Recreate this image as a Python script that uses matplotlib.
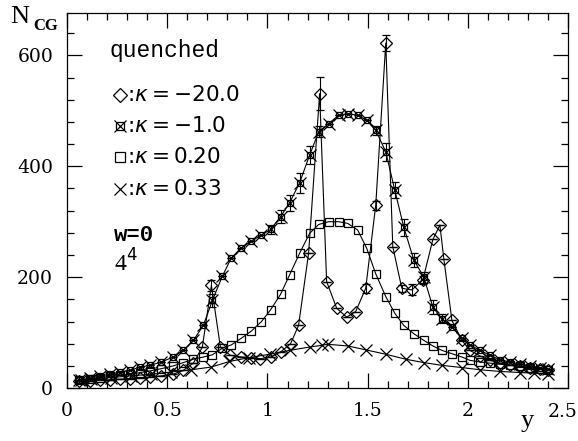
import matplotlib
matplotlib.use("Agg")
import matplotlib.pyplot as plt
from matplotlib.ticker import MultipleLocator

# kappa = -20.0 (diamonds)
x_m20 = [0.06, 0.115, 0.165, 0.215, 0.265, 0.315, 0.365, 0.415, 0.47, 0.53,
         0.58, 0.63, 0.675, 0.72, 0.765, 0.815, 0.87, 0.92, 0.965, 1.015,
         1.065, 1.115, 1.155, 1.205, 1.26, 1.295, 1.345, 1.395, 1.44, 1.49,
         1.54, 1.59, 1.625, 1.67, 1.72, 1.775, 1.825, 1.86, 1.88, 1.92,
         1.97, 2.01, 2.06, 2.11, 2.16, 2.21, 2.26, 2.31, 2.36, 2.40]
n_m20 = [12, 13, 14, 15, 16, 17, 18, 20, 22, 25,
         32, 45, 74, 185, 74, 59, 56, 55, 53, 56,
         65, 80, 113, 243, 531, 192, 144, 128, 138, 180,
         330, 622, 255, 180, 177, 195, 268, 294, 232, 122,
         86, 68, 58, 50, 45, 42, 39, 36, 34, 32]
e_m20 = [0, 0, 0, 0, 0, 0, 0, 0, 0, 0,
         0, 0, 0, 10, 0, 0, 0, 0, 0, 0,
         0, 0, 0, 0, 30, 0, 0, 0, 0, 8,
         8, 14, 0, 6, 10, 8, 0, 0, 0, 0,
         0, 0, 0, 0, 0, 0, 0, 0, 0, 0]

# kappa = -1.0 and kappa = 0.20 share the same y values
x_grid = [0.06, 0.115, 0.165, 0.215, 0.265, 0.315, 0.365, 0.415, 0.47, 0.53,
          0.58, 0.63, 0.68, 0.725, 0.775, 0.82, 0.87, 0.92, 0.97, 1.015,
          1.065, 1.11, 1.16, 1.21, 1.255, 1.305, 1.355, 1.40, 1.45, 1.495,
          1.54, 1.59, 1.635, 1.68, 1.73, 1.78, 1.825, 1.87, 1.92, 1.97,
          2.01, 2.06, 2.11, 2.16, 2.21, 2.26, 2.31, 2.36, 2.40]
n_m1 = [14, 18, 22, 25, 29, 32, 38, 41, 47, 56,
        68, 86, 113, 158, 202, 235, 253, 265, 276, 286,
        309, 334, 370, 420, 462, 477, 492, 495, 492, 483,
        465, 426, 357, 290, 231, 200, 146, 125, 110, 90,
        78, 68, 59, 51, 47, 43, 40, 37, 35]
e_m1 = [0, 0, 0, 0, 0, 0, 0, 0, 0, 0,
        0, 0, 0, 12, 0, 0, 0, 0, 0, 8,
        12, 15, 18, 16, 10, 0, 0, 0, 0, 0,
        8, 16, 15, 15, 12, 10, 12, 8, 0, 0,
        0, 0, 0, 0, 0, 0, 0, 0, 0]
n_p20 = [15, 17, 19, 21, 23, 25, 28, 31, 35, 40,
         46, 52, 56, 60, 72, 78, 90, 103, 120, 141,
         169, 204, 243, 279, 295, 300, 300, 297, 285, 252,
         206, 165, 135, 113, 98, 86, 76, 68, 62, 56,
         50, 47, 45, 43, 41, 39, 37, 35, 33]

# kappa = 0.33 (crosses)
x_p33 = [0.07, 0.12, 0.22, 0.32, 0.42, 0.52, 0.62, 0.72, 0.81, 0.91,
         1.01, 1.11, 1.21, 1.27, 1.30, 1.40, 1.49, 1.59, 1.69, 1.78,
         1.87, 1.97, 2.06, 2.16, 2.26, 2.33, 2.40]
n_p33 = [14, 16, 19, 22, 25, 29, 33, 38, 48, 55,
         61, 68, 74, 77, 79, 76, 69, 61, 52, 46,
         41, 37, 33, 30, 28, 27, 26]

xtick_vals = [0, 0.5, 1, 1.5, 2, 2.5]
xtick_labels = ["0", "0.5", "1", "1.5", "2", ""]
ytick_vals = [0, 200, 400, 600]
ytick_labels = ["0", "200", "400", "600"]
legend_lines = [r":$\kappa=-$20.0", r":$\kappa=-$1.0", r":$\kappa=$0.20", r":$\kappa=$0.33"]

plt.rcParams["mathtext.fontset"] = "dejavusans"
fig = plt.figure(figsize=(5.78, 4.41), dpi=100)
ax = fig.add_axes([0.116, 0.120, 0.867, 0.850])

lw = 0.8
ax.errorbar(x_m20, n_m20, yerr=e_m20, color="k", lw=lw, marker="D", ms=5.8,
            mfc="none", mew=0.9, capsize=3, elinewidth=lw)
ax.errorbar(x_grid, n_m1, yerr=e_m1, color="k", lw=lw, marker="s", ms=5,
            mfc="none", mew=0.9, capsize=3, elinewidth=lw)
ax.plot(x_grid, n_m1, ls="none", marker="x", ms=8.5, color="k", mew=0.9)
ax.plot(x_grid, n_p20, color="k", lw=lw, marker="s", ms=5.5, mfc="none", mew=0.9)
ax.plot(x_p33, n_p33, color="k", lw=lw, marker="x", ms=8.5, mew=0.9)

ax.set_xlim(0, 2.5)
ax.set_ylim(0, 676)
ax.xaxis.set_minor_locator(MultipleLocator(0.1))
ax.yaxis.set_minor_locator(MultipleLocator(40))
ax.tick_params(which="both", direction="in", top=True, right=True, width=0.9)
ax.tick_params(which="major", length=11, labelsize=13.5)
ax.tick_params(axis="x", which="major", pad=10)
ax.tick_params(axis="y", which="major", pad=10)
ax.tick_params(which="minor", length=5)
ax.set_xticks(xtick_vals)
ax.set_xticklabels(xtick_labels, family="DejaVu Serif")
ax.set_yticks(ytick_vals)
ax.set_yticklabels(ytick_labels, family="DejaVu Serif")
for s in ax.spines.values():
    s.set_linewidth(0.9)
# last x tick label sits at the figure edge; keep it inside
fig.text(0.9995, 0.066, "2.5", fontsize=13.5, family="DejaVu Serif",
         ha="right", va="center")

# axis titles
fig.text(0.017, 0.962, "N", fontsize=19, family="Liberation Serif",
         va="center", ha="left")
fig.text(0.058, 0.940, "CG", fontsize=12, family="Liberation Serif", weight="bold",
         va="center", ha="left")
fig.text(0.912, 0.045, "y", fontsize=19, family="Liberation Serif", va="center", ha="center")

# legend block
ax.text(0.084, 0.901, "quenched", transform=ax.transAxes, fontsize=16.5,
        family="Liberation Mono", va="center", ha="left")
rows_y = [0.781, 0.699, 0.616, 0.531]
sym_x = 0.105
ax.plot([sym_x], [rows_y[0]], transform=ax.transAxes, marker="D", ms=7, mfc="none",
        mec="k", mew=0.9, clip_on=False)
ax.plot([sym_x], [rows_y[1]], transform=ax.transAxes, marker="s", ms=5.5, mfc="none",
        mec="k", mew=0.9, clip_on=False)
ax.plot([sym_x], [rows_y[1]], transform=ax.transAxes, marker="x", ms=9, mec="k",
        mew=0.9, clip_on=False)
ax.plot([sym_x], [rows_y[2]], transform=ax.transAxes, marker="s", ms=7.5, mfc="none",
        mec="k", mew=0.9, clip_on=False)
ax.plot([sym_x], [rows_y[3]], transform=ax.transAxes, marker="x", ms=9, mec="k",
        mew=0.9, clip_on=False)
for ty, lab in zip(rows_y, legend_lines):
    ax.text(0.119, ty, lab, transform=ax.transAxes, fontsize=15.5, va="center", ha="left")
ax.text(0.093, 0.408, "w=0", transform=ax.transAxes, fontsize=16,
        family="Liberation Mono", weight="bold", va="center", ha="left")
ax.text(0.093, 0.333, r"4$^{4}$", transform=ax.transAxes, fontsize=17,
        family="Liberation Serif", va="center", ha="left")

fig.savefig("out.png", dpi=100)
